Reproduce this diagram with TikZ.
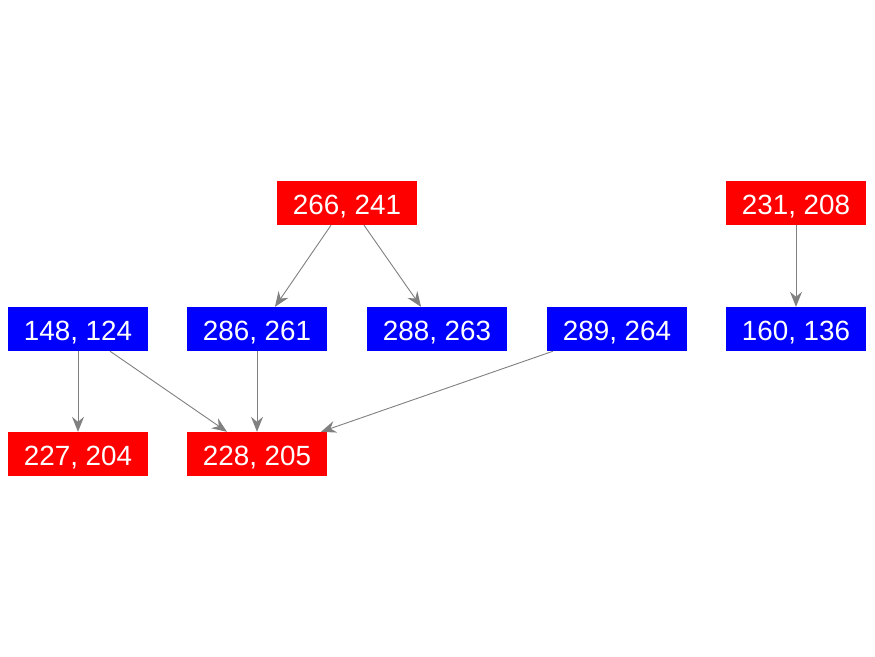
\documentclass[tikz,border=0pt]{standalone}
\usepackage{fontspec}
\setmainfont{Liberation Sans}
\usetikzlibrary{arrows.meta}
\definecolor{nred}{RGB}{255,0,0}
\definecolor{nblue}{RGB}{0,0,255}
\begin{document}
\begin{tikzpicture}[x=1pt,y=-1pt,
  box/.style={minimum width=140pt,minimum height=44pt,inner sep=0pt,text=white,font=\fontsize{27.8}{30}\selectfont},
  rbox/.style={box,fill=nred},
  bbox/.style={box,fill=nblue},
  lbl/.style={text=white,font=\fontsize{27.8}{30}\selectfont,inner sep=0pt},
  edge/.style={draw=gray,line width=0.9pt,-{Stealth[length=15pt,width=12pt,inset=5pt]}}]
\useasboundingbox[fill=white] (0,0) rectangle (875,656);
\node[rbox] (a) at (347,203) {};
\node[rbox] (b) at (796,203) {};
\node[bbox] (c) at (78,329) {};
\node[bbox] (d) at (257,329) {};
\node[bbox] (e) at (437,329) {};
\node[bbox] (f) at (617,329) {};
\node[bbox] (g) at (796,329) {};
\node[rbox] (h) at (78,454) {};
\node[rbox] (i) at (257,454) {};
\node[lbl,anchor=base] (ta) at ([yshift=-11.5pt]a.center) {266, 241};
\node[lbl,anchor=base] (tb) at ([yshift=-11.5pt]b.center) {231, 208};
\node[lbl,anchor=base] (tc) at ([yshift=-11.5pt]c.center) {148, 124};
\node[lbl,anchor=base] (td) at ([yshift=-11.5pt]d.center) {286, 261};
\node[lbl,anchor=base] (te) at ([yshift=-11.5pt]e.center) {288, 263};
\node[lbl,anchor=base] (tf) at ([yshift=-11.5pt]f.center) {289, 264};
\node[lbl,anchor=base] (tg) at ([yshift=-11.5pt]g.center) {160, 136};
\node[lbl,anchor=base] (th) at ([yshift=-11.5pt]h.center) {227, 204};
\node[lbl,anchor=base] (ti) at ([yshift=-11.5pt]i.center) {228, 205};
\draw[edge] ([xshift=-16pt]a.south) -- ([xshift=18pt]d.north);
\draw[edge] ([xshift=17pt]a.south) -- ([xshift=-16pt]e.north);
\draw[edge] (b.south) -- (g.north);
\draw[edge] (c.south) -- (h.north);
\draw[edge] ([xshift=32pt]c.south) -- ([xshift=-30pt]i.north);
\draw[edge] (d.south) -- (i.north);
\draw[edge] ([xshift=-64pt]f.south) -- ([xshift=64pt]i.north);
\end{tikzpicture}
\end{document}
